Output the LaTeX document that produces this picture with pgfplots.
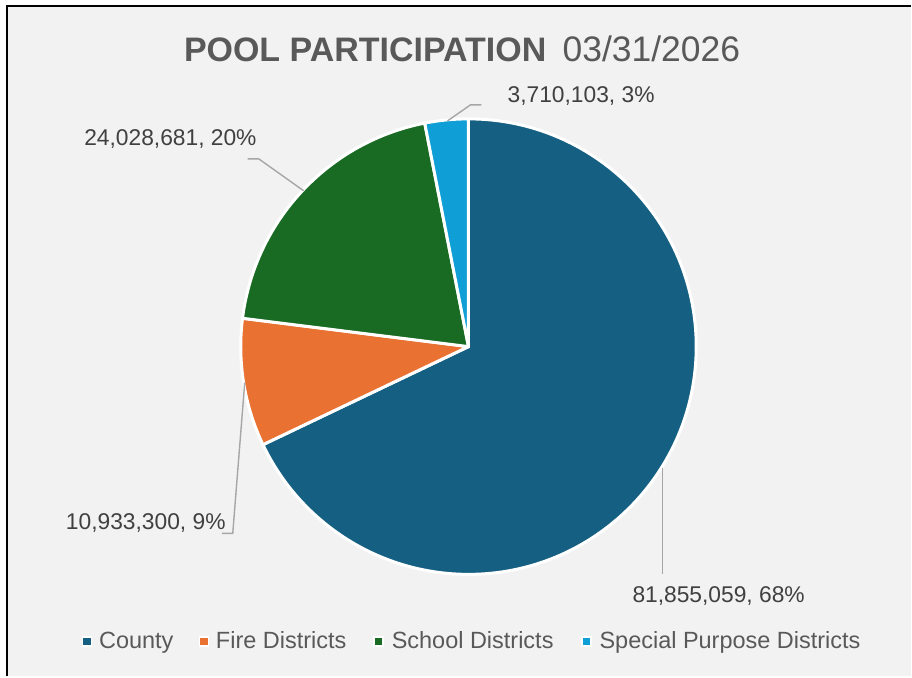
\documentclass[border=0pt]{standalone}
\usepackage{pgfplots}
\pgfplotsset{compat=1.18}
\usepackage{pgfplotstable}
\usepackage{fontspec}
\setmainfont{Liberation Sans}

\definecolor{cCounty}{HTML}{156082}
\definecolor{cFire}{HTML}{E97132}
\definecolor{cSchool}{HTML}{196B24}
\definecolor{cSpecial}{HTML}{0F9ED5}
\definecolor{titlegray}{HTML}{595959}
\definecolor{labgray}{HTML}{404040}
\definecolor{leadgray}{HTML}{A6A6A6}
\definecolor{bggray}{HTML}{F2F2F2}

\pgfplotstableread[col sep=comma]{
name,value
County,81855059
Fire Districts,10933300
School Districts,24028681
Special Purpose Districts,3710103
}\piedata

\newcommand\fpcalc[2]{\begingroup\pgfkeys{/pgf/fpu=true,/pgf/fpu/output format=fixed}\pgfmathparse{#2}\xdef#1{\pgfmathresult}\endgroup}
\newcommand\legentry[4]{%
  \filldraw[fill=#3,draw=white,line width=1.5pt] (axis cs:#1-4.5,30.5) rectangle (axis cs:#1+4.5,39.5);
  \node[anchor=base west,inner sep=0,text=titlegray,font=\fontsize{23.5}{28}\selectfont] at (axis cs:#2,28) {#4};}

\pgfplotstablegetelem{0}{value}\of\piedata\let\vA\pgfplotsretval
\pgfplotstablegetelem{1}{value}\of\piedata\let\vB\pgfplotsretval
\pgfplotstablegetelem{2}{value}\of\piedata\let\vC\pgfplotsretval
\pgfplotstablegetelem{3}{value}\of\piedata\let\vD\pgfplotsretval
\fpcalc\total{\vA+\vB+\vC+\vD}
\fpcalc\aA{90-360*\vA/\total}
\fpcalc\aB{\aA-360*\vB/\total}
\fpcalc\aC{\aB-360*\vC/\total}
\def\aD{-270}

\begin{document}%
\begin{tikzpicture}
\begin{axis}[x=1pt,y=1pt,xmin=0,xmax=912,ymin=0,ymax=677,
  hide axis,scale only axis,clip=false]
% background and frame
\fill[white] (axis cs:0,0) rectangle (axis cs:912,677);
\fill[bggray] (axis cs:7,0) rectangle (axis cs:912,671);
\draw[black,line width=2pt] (axis cs:7,0) -- (axis cs:7,671) -- (axis cs:912,671);
% slices
\filldraw[fill=cCounty,draw=white,line width=3pt,line join=round] (axis cs:469,330) -- ++(90:228pt) arc[start angle=90,end angle=\aA,radius=228pt] -- cycle;
\filldraw[fill=cFire,draw=white,line width=3pt,line join=round] (axis cs:469,330) -- ++(\aA:228pt) arc[start angle=\aA,end angle=\aB,radius=228pt] -- cycle;
\filldraw[fill=cSchool,draw=white,line width=3pt,line join=round] (axis cs:469,330) -- ++(\aB:228pt) arc[start angle=\aB,end angle=\aC,radius=228pt] -- cycle;
\filldraw[fill=cSpecial,draw=white,line width=3pt,line join=round] (axis cs:469,330) -- ++(\aC:228pt) arc[start angle=\aC,end angle=\aD,radius=228pt] -- cycle;
% leader lines
\draw[leadgray,line width=1.4pt] (axis cs:663,208) -- (axis cs:663,102);
\draw[leadgray,line width=1.4pt] (axis cs:245,294) -- (axis cs:233,143) -- (axis cs:222,143);
\draw[leadgray,line width=1.4pt] (axis cs:304,486) -- (axis cs:259,518) -- (axis cs:248,518);
\draw[leadgray,line width=1.4pt] (axis cs:448,556) -- (axis cs:471,572) -- (axis cs:482,572);
% data labels
\node[anchor=base west,inner sep=0,text=labgray,font=\fontsize{22.8}{27}\selectfont] at (axis cs:633,74) {81,855,059, 68\%};
\node[anchor=base east,inner sep=0,text=labgray,font=\fontsize{22.8}{27}\selectfont] at (axis cs:226,147) {10,933,300, 9\%};
\node[anchor=base east,inner sep=0,text=labgray,font=\fontsize{22.8}{27}\selectfont] at (axis cs:257,531) {24,028,681, 20\%};
\node[anchor=base west,inner sep=0,text=labgray,font=\fontsize{22.8}{27}\selectfont] at (axis cs:508,574) {3,710,103, 3\%};
% title
\node[anchor=base west,inner sep=0,text=titlegray,font=\fontsize{34}{40}\selectfont\bfseries] at (axis cs:184,615) {POOL PARTICIPATION};
\node[anchor=base west,inner sep=0,text=titlegray,font=\fontsize{35.5}{40}\selectfont] at (axis cs:563,615) {03/31/2026};
% legend
\legentry{87}{99}{cCounty}{County}
\legentry{204}{216}{cFire}{Fire Districts}
\legentry{379}{392}{cSchool}{School Districts}
\legentry{587}{600}{cSpecial}{Special Purpose Districts}
\end{axis}
\end{tikzpicture}%
\end{document}
